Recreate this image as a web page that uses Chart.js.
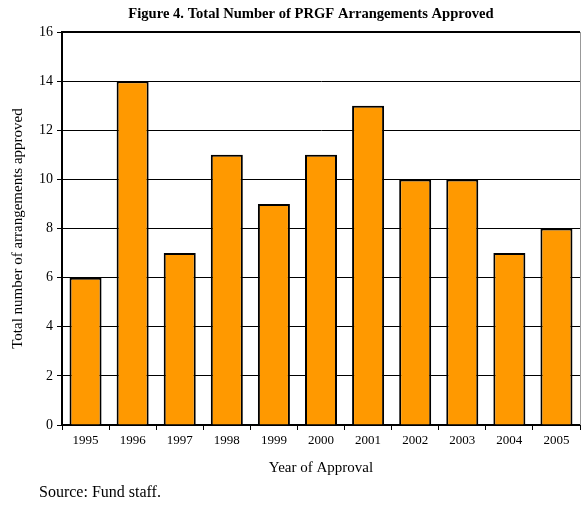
<!DOCTYPE html>
<html>
<head>
<meta charset="utf-8">
<script src="https://cdn.jsdelivr.net/npm/chart.js@4"></script>
<style>
  body { margin: 0; background: #fff; }
  #wrap { position: relative; width: 582px; height: 508px; }
  #source { position: absolute; left: 39px; top: 483px; font: 16px "Liberation Serif", serif; color: #000; }
</style>
</head>
<body>
<div id="wrap">
  <canvas id="prgfChart" width="582" height="508"></canvas>
  <div id="source">Source: Fund staff.</div>
</div>
<script>
const years = ['1995', '1996', '1997', '1998', '1999', '2000', '2001', '2002', '2003', '2004', '2005'];
const approved = [6, 14, 7, 11, 9, 11, 13, 10, 10, 7, 8];
const yTicks = [0, 2, 4, 6, 8, 10, 12, 14, 16];
const chartTitle = 'Figure 4. Total Number of PRGF Arrangements Approved';

const serif = '"Liberation Serif", "Times New Roman", serif';

// title sits a little left of the plot centre, so draw it by hand;
// also the gray right edge and heavier top edge of the plot area
const frame = {
    id: 'frame',
    afterDraw(chart) {
        const { ctx, chartArea: a } = chart;
        ctx.save();
        ctx.fillStyle = '#000';
        ctx.font = 'bold 14.6px ' + serif;
        ctx.textAlign = 'center';
        ctx.textBaseline = 'middle';
        ctx.fillText(chartTitle, 311, 14);

        ctx.strokeStyle = '#999';
        ctx.lineWidth = 1;
        ctx.beginPath();
        ctx.moveTo(a.right + 0.5, a.top);
        ctx.lineTo(a.right + 0.5, a.bottom);
        ctx.stroke();
        ctx.strokeStyle = '#000';
        ctx.lineWidth = 2;
        ctx.beginPath();
        ctx.moveTo(a.left, a.top);
        ctx.lineTo(a.right, a.top);
        ctx.stroke();
        ctx.restore();
    }
};

const ctx = document.getElementById('prgfChart').getContext('2d');
new Chart(ctx, {
    type: 'bar',
    data: {
        labels: years,
        datasets: [{
            label: 'Arrangements approved',
            data: approved,
            backgroundColor: '#FF9900',
            borderColor: '#000',
            borderWidth: 2,
            barPercentage: 0.68,
            categoryPercentage: 1
        }]
    },
    options: {
        responsive: false,
        animation: false,
        layout: { padding: { top: 32, left: 0, right: 2, bottom: 23 } },
        plugins: {
            legend: { display: false },
            tooltip: { enabled: false },
            title: { display: false }
        },
        scales: {
            x: {
                grid: { offset: true, drawOnChartArea: false, color: '#000', tickLength: 5 },
                border: { color: '#000', width: 2 },
                ticks: { color: '#000', font: { family: serif, size: 13 }, padding: 3, maxRotation: 0 },
                title: {
                    display: true,
                    text: 'Year of Approval',
                    color: '#000',
                    font: { family: serif, size: 15 },
                    padding: { top: 8, bottom: 8 }
                },
                afterFit(scale) { scale.height = 60; }
            },
            y: {
                min: 0,
                max: 16,
                afterBuildTicks(scale) { scale.ticks = yTicks.map(v => ({ value: v })); },
                grid: { color: '#000', lineWidth: 1, tickLength: 5 },
                border: { color: '#000', width: 2 },
                ticks: { color: '#000', font: { family: serif, size: 14 }, padding: 4 },
                title: {
                    display: true,
                    text: 'Total number of arrangements approved',
                    color: '#000',
                    font: { family: serif, size: 15 },
                    padding: { top: 9, bottom: 4 }
                },
                afterFit(scale) { scale.width = 62; }
            }
        }
    },
    plugins: [frame]
});
</script>
</body>
</html>
